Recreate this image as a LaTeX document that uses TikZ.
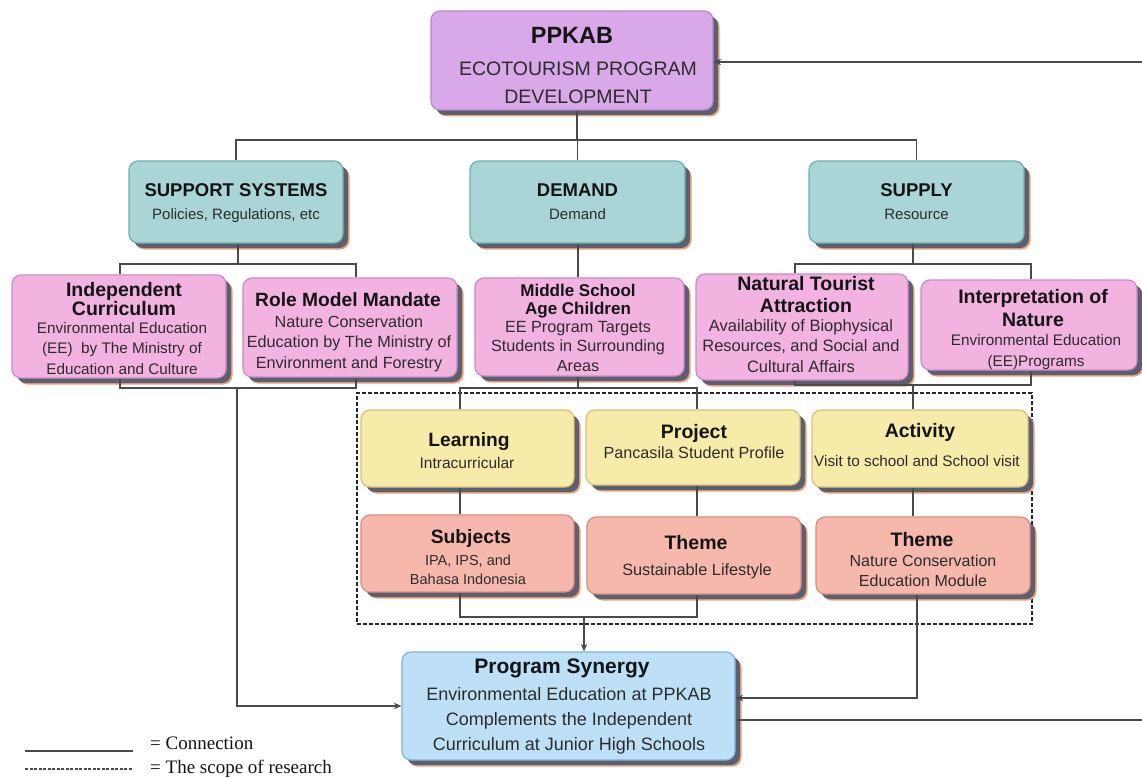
\documentclass[tikz,border=0pt]{standalone}
\usepackage{fontspec}
\setmainfont{Liberation Sans}
\newfontfamily\legendfont{Liberation Serif}
\usetikzlibrary{arrows.meta}
\definecolor{cPur}{HTML}{D8A8E8}\definecolor{bPur}{HTML}{B585CA}
\definecolor{cTea}{HTML}{A9D5D6}\definecolor{bTea}{HTML}{6FAEB0}
\definecolor{cPin}{HTML}{F2B3E0}\definecolor{bPin}{HTML}{C78CC6}
\definecolor{cYel}{HTML}{F7EBA9}\definecolor{bYel}{HTML}{D3C37A}
\definecolor{cSal}{HTML}{F6B8AC}\definecolor{bSal}{HTML}{D68E80}
\definecolor{cBlu}{HTML}{BDE0F7}\definecolor{bBlu}{HTML}{7DB3DA}
\definecolor{shD}{HTML}{5D5F6E}\definecolor{shO}{HTML}{E5A27C}
\definecolor{lineC}{HTML}{4A4A4A}\definecolor{txtA}{HTML}{141414}\definecolor{txtB}{HTML}{2C2C2C}
\begin{document}
\begin{tikzpicture}[x=1pt,y=-1pt,
  bx/.style 2 args={draw=#2, fill=#1, line width=1.2pt, rounded corners=9pt, inner sep=0pt,
    preaction={fill=shO, transform canvas={shift={(6.5pt,-6.5pt)}}},
    preaction={fill=shD, transform canvas={shift={(5pt,-5pt)}}}},
  tb/.style={font=\bfseries\fontsize{#1}{#1}\selectfont, inner sep=0pt, anchor=mid, text=txtA, yshift=-4pt},
  tr/.style={font=\fontsize{#1}{#1}\selectfont, inner sep=0pt, anchor=mid, text=txtB, yshift=-3.5pt},
  conn/.style={draw=lineC, line width=1.3pt},
  arr/.style={conn, -{Stealth[length=7.5pt,width=6.5pt]}}]
\useasboundingbox (0,0) rectangle (1142,778);
\fill[white] (0,0) rectangle (1142,778);

% scope of research
\node[draw=black!85, dash pattern=on 4pt off 2pt, line width=1.5pt, minimum width=675, minimum height=231, inner sep=0pt] (scope) at (694.5,508.5) {};

% top
\node[bx={cPur}{bPur}, minimum width=282, minimum height=99] (ppk) at (572,60.5) {};
\node[tb=23.5] (ppkT) at (572,37) {PPKAB};
\node[tr=19.5] (ppkB1) at (578,69) {ECOTOURISM PROGRAM};
\node[tr=19.5] (ppkB2) at (578,97) {DEVELOPMENT};

% row 2
\node[bx={cTea}{bTea}, minimum width=214, minimum height=82] (sup) at (236,202) {};
\node[tb=18.5] (supT) at (236,190) {SUPPORT SYSTEMS};
\node[tr=15] (supB) at (236,213) {Policies, Regulations, etc};
\node[bx={cTea}{bTea}, minimum width=215, minimum height=82] (dem) at (577.5,202) {};
\node[tb=18.5] (demT) at (577.5,190) {DEMAND};
\node[tr=15] (demB) at (577.5,213) {Demand};
\node[bx={cTea}{bTea}, minimum width=215, minimum height=82] (spl) at (916.5,202) {};
\node[tb=18.5] (splT) at (916.5,190) {SUPPLY};
\node[tr=15] (splB) at (916.5,213) {Resource};

% row 3
\node[bx={cPin}{bPin}, minimum width=214, minimum height=103] (ind) at (119,326.5) {};
\node[tb=19.5] (indT1) at (124,290) {Independent};
\node[tb=19.5] (indT2) at (124,309) {Curriculum};
\node[tr=15.3] (indB1) at (122,327) {Environmental Education};
\node[tr=15.3] (indB2) at (122,347) {(EE)\ \ by The Ministry of};
\node[tr=15.3] (indB3) at (122,368) {Education and Culture};

\node[bx={cPin}{bPin}, minimum width=214, minimum height=99] (rol) at (350,327.5) {};
\node[tb=19.2] (rolT) at (348,300) {Role Model Mandate};
\node[tr=16.2] (rolB1) at (349,321) {Nature Conservation};
\node[tr=16.2] (rolB2) at (349,341) {Education by The Ministry of};
\node[tr=16.2] (rolB3) at (349,362) {Environment and Forestry};

\node[bx={cPin}{bPin}, minimum width=209, minimum height=98] (mid) at (579.5,327) {};
\node[tb=17] (midT1) at (578,290) {Middle School};
\node[tb=17] (midT2) at (578,308) {Age Children};
\node[tr=16.2] (midB1) at (578,326) {EE Program Targets};
\node[tr=16.2] (midB2) at (578,345) {Students in Surrounding};
\node[tr=16.2] (midB3) at (578,365) {Areas};

\node[bx={cPin}{bPin}, minimum width=212, minimum height=106] (nat) at (802,327) {};
\node[tb=19.5] (natT1) at (806,284) {Natural Tourist};
\node[tb=19.5] (natT2) at (806,306) {Attraction};
\node[tr=16.5] (natB1) at (801,325) {Availability of Biophysical};
\node[tr=16.5] (natB2) at (801,345) {Resources, and Social and};
\node[tr=16.5] (natB3) at (801,366) {Cultural Affairs};

\node[bx={cPin}{bPin}, minimum width=216, minimum height=90] (int) at (1029,325) {};
\node[tb=19.5] (intT1) at (1033,297) {Interpretation of};
\node[tb=19.5] (intT2) at (1033,320) {Nature};
\node[tr=15.3] (intB1) at (1036,339) {Environmental Education};
\node[tr=15.3] (intB2) at (1036,360) {(EE)Programs};

% row 4
\node[bx={cYel}{bYel}, minimum width=213, minimum height=77] (lrn) at (467.5,448.5) {};
\node[tb=19.2] (lrnT) at (469,440) {Learning};
\node[tr=15.5] (lrnB) at (467,462) {Intracurricular};
\node[bx={cYel}{bYel}, minimum width=214, minimum height=75] (prj) at (693,447.5) {};
\node[tb=19.5] (prjT) at (694,432) {Project};
\node[tr=16.2] (prjB) at (694,452) {Pancasila Student Profile};
\node[bx={cYel}{bYel}, minimum width=216, minimum height=77] (act) at (920,448.5) {};
\node[tb=19.5] (actT) at (920,431) {Activity};
\node[tr=15.3] (actB) at (917,460) {Visit to school and School visit};

% row 5
\node[bx={cSal}{bSal}, minimum width=213, minimum height=77] (sub) at (467.5,553.5) {};
\node[tb=19.3] (subT) at (471,537) {Subjects};
\node[tr=14.5] (subB1) at (468,559) {IPA, IPS, and};
\node[tr=14.5] (subB2) at (468,578) {Bahasa Indonesia};
\node[bx={cSal}{bSal}, minimum width=214, minimum height=77] (th1) at (694,555.5) {};
\node[tb=19.5] (th1T) at (696,543) {Theme};
\node[tr=16.3] (th1B) at (697,569) {Sustainable Lifestyle};
\node[bx={cSal}{bSal}, minimum width=214, minimum height=77] (th2) at (923,555.5) {};
\node[tb=19.5] (th2T) at (922,540) {Theme};
\node[tr=16] (th2B1) at (923,560) {Nature Conservation};
\node[tr=16] (th2B2) at (923,580) {Education Module};

% bottom
\node[bx={cBlu}{bBlu}, minimum width=333, minimum height=108] (syn) at (568.5,706) {};
\node[tb=21] (synT) at (562,667) {Program Synergy};
\node[tr=18] (synB1) at (569,694) {Environmental Education at PPKAB};
\node[tr=18] (synB2) at (569,719) {Complements the Independent};
\node[tr=18] (synB3) at (569,744) {Curriculum at Junior High Schools};

% junctions
\coordinate (j1) at (577,140);
\coordinate (j2) at (238,264); \coordinate (j2a) at (120,264); \coordinate (j2b) at (356,264);
\coordinate (j3) at (913,264); \coordinate (j3a) at (795,264); \coordinate (j3b) at (1031,264);
\coordinate (j4) at (237,388); \coordinate (j4a) at (120,388); \coordinate (j4b) at (356,388);
\coordinate (j5) at (578,388); \coordinate (j5a) at (460,388); \coordinate (j5b) at (697,388);
\coordinate (j6) at (913,385); \coordinate (j6a) at (795,385); \coordinate (j6b) at (1031,385);
\coordinate (j7) at (584,617); \coordinate (j7a) at (460,617); \coordinate (j7b) at (697,617);
\coordinate (j8) at (917,698);
\coordinate (j9) at (1144.5,720); \coordinate (j9b) at (1144.5,62);

% connectors
\draw[conn] (ppk.south -| j1) -- (j1);
\draw[conn] (sup.north) |- (j1) -| (spl.north);
\draw[conn] (dem.north) -- (dem.north |- j1);
\draw[conn] (sup.south -| j2) -- (j2);
\draw[conn] (ind.north -| j2a) |- (j2b) -- (rol.north -| j2b);
\draw[conn] (dem.south -| j5) -- (mid.north -| j5);
\draw[conn] (spl.south -| j3) -- (j3);
\draw[conn] (nat.north -| j3a) |- (j3b) -- (int.north -| j3b);
\draw[conn] (ind.south -| j4a) |- (j4b) -- (rol.south -| j4b);
\draw[arr] (j4) |- (syn.west);
\draw[conn] (mid.south -| j5) -- (j5);
\draw[conn] (lrn.north -| j5a) |- (j5b) -- (prj.north -| j5b);
\draw[conn] (nat.south -| j6a) |- (j6b) -- (int.south -| j6b);
\draw[conn] (j6) -- (act.north -| j6);
\draw[conn] (lrn.south -| j5a) -- (sub.north -| j5a);
\draw[conn] (prj.south -| j5b) -- (th1.north -| j5b);
\draw[conn] (act.south -| j6) -- (th2.north -| j6);
\draw[conn] (sub.south -| j7a) |- (j7b) -- (th1.south -| j7b);
\draw[arr] (j7) -- (syn.north -| j7);
\draw[arr] (th2.south -| j8) |- (syn.east |- j8);
\draw[arr] (syn.east |- j9) -- (j9) -- (j9b) -- (ppk.east |- j9b);

% legend
\coordinate (l1a) at (25,751); \coordinate (l1b) at (133,751);
\coordinate (l2a) at (25,769); \coordinate (l2b) at (133,769);
\draw[conn] (l1a) -- (l1b);
\draw[conn, line width=1.2pt, dash pattern=on 3pt off 1.5pt] (l2a) -- (l2b);
\node[font=\legendfont\fontsize{19}{19}\selectfont, inner sep=0pt, anchor=mid west, text=txtA] (lg1) at (150,747) {= Connection};
\node[font=\legendfont\fontsize{19}{19}\selectfont, inner sep=0pt, anchor=mid west, text=txtA] (lg2) at (150,771) {= The scope of research};
\end{tikzpicture}
\end{document}
